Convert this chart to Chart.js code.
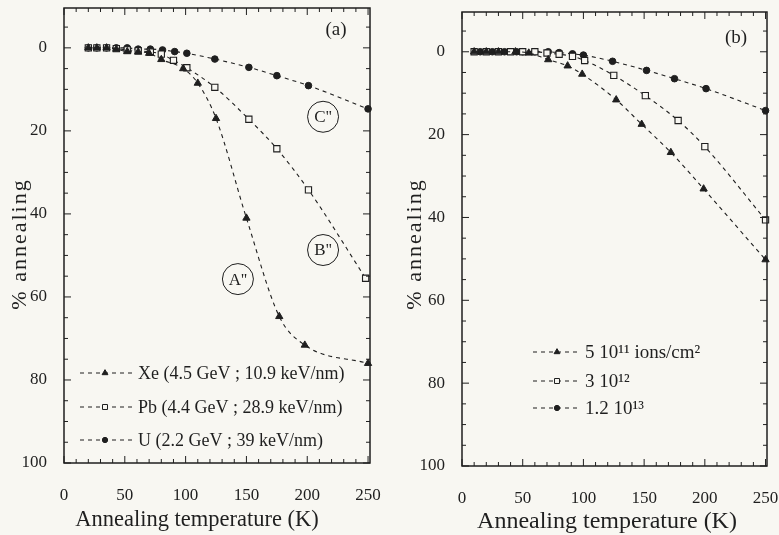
<!DOCTYPE html>
<html>
<head>
<meta charset="utf-8">
<script src="https://cdn.jsdelivr.net/npm/chart.js@4.4.0/dist/chart.umd.min.js"></script>
<style>
  body { margin: 0; background: #f8f7f2; }
  #wrap { position: relative; width: 779px; height: 535px; overflow: hidden; }
  canvas { position: absolute; top: 0; }
  #chartA { left: 0; }
  #chartB { left: 400px; }
</style>
</head>
<body>
<div id="wrap">
  <canvas id="chartA" width="400" height="535"></canvas>
  <canvas id="chartB" width="379" height="535"></canvas>
</div>
<script>
// ---- data ----
const xTickLabels = [0, 50, 100, 150, 200, 250];
const yTickLabels = [0, 20, 40, 60, 80, 100];

// panel (a): three ions
const xeTemp   = [20, 27, 35, 43, 52, 61, 70, 80, 98, 110, 125, 150, 177, 198, 250];
const xeAnneal = [0, 0, 0, 0.3, 0.9, 1, 1.3, 2.8, 5, 8.5, 17, 41, 64.7, 71.6, 76];
const pbTemp   = [20, 27, 35, 43, 52, 61, 71, 80, 90, 101, 124, 152, 175, 201, 248];
const pbAnneal = [0, 0, 0, 0.2, 0.5, 0.7, 1, 1.5, 3, 4.8, 9.5, 17.2, 24.3, 34.2, 55.5];
const uTemp    = [20, 27, 35, 43, 52, 61, 71, 81, 91, 101, 124, 152, 175, 201, 250];
const uAnneal  = [0, 0, 0, 0, 0, 0.3, 0.3, 0.5, 0.9, 1.3, 2.7, 4.7, 6.7, 9.1, 14.7];
const aLabels  = ['Xe (4.5 GeV ; 10.9 keV/nm)', 'Pb (4.4 GeV ; 28.9 keV/nm)', 'U (2.2 GeV ; 39 keV/nm)'];

// panel (b): three fluences
const f1Temp   = [10, 20, 30, 44, 55, 71, 87, 99, 127, 148, 172, 199, 250];
const f1Anneal = [0, 0, 0, 0, 0.3, 1.9, 3.4, 5.4, 11.6, 17.5, 24.3, 33.1, 50.2];
const f2Temp   = [10, 20, 30, 40, 50, 60, 70, 80, 91, 101, 125, 151, 178, 200, 250];
const f2Anneal = [0, 0, 0, 0, 0, 0, 0.3, 0.6, 1.1, 2.1, 5.7, 10.6, 16.6, 22.9, 40.6];
const f3Temp   = [15, 25, 35, 45, 50, 60, 71, 80, 91, 100, 124, 152, 175, 201, 250];
const f3Anneal = [0, 0, 0, 0, 0, 0, 0, 0.2, 0.5, 0.8, 2.3, 4.5, 6.5, 8.9, 14.2];
const bLabels  = ['5 10\u00b9\u00b9 ions/cm\u00b2', '3 10\u00b9\u00b2', '1.2 10\u00b9\u00b3'];

// circled curve labels in panel (a), data units
const curveTags = [
  { text: "A''", x: 143, y: 55.7 },
  { text: "B''", x: 213, y: 48.7 },
  { text: "C''", x: 213, y: 16.6 }
];

const ink = '#1f1f1f';
const paper = '#f8f7f2';
const serif = '"Liberation Serif", "DejaVu Serif", serif';

const markers = {
  tri:  { pointStyle: 'triangle', pointRadius: 4.2, pointBackgroundColor: ink,   pointBorderColor: ink, pointBorderWidth: 1 },
  sq:   { pointStyle: 'rect',     pointRadius: 4.4, pointBackgroundColor: paper, pointBorderColor: ink, pointBorderWidth: 1.1 },
  circ: { pointStyle: 'circle',   pointRadius: 3.3, pointBackgroundColor: ink,   pointBorderColor: ink, pointBorderWidth: 1 }
};

function series(label, temps, vals, mark) {
  return Object.assign({
    label: label,
    data: temps.map((t, i) => ({ x: t, y: vals[i] })),
    borderColor: ink,
    borderWidth: 1.1,
    borderDash: [4, 4],
    cubicInterpolationMode: 'monotone',
    fill: false,
    clip: false
  }, markers[mark]);
}

function line(ctx, x1, y1, x2, y2) {
  ctx.beginPath();
  ctx.moveTo(x1, y1);
  ctx.lineTo(x2, y2);
  ctx.stroke();
}

// frame, inward ticks, axis titles, legend, tags
const framePlugin = {
  id: 'frame',
  beforeDraw(chart) {
    const ctx = chart.ctx;
    ctx.save();
    ctx.fillStyle = paper;
    ctx.fillRect(0, 0, chart.width, chart.height);
    ctx.restore();
  },
  afterDraw(chart, args, opts) {
    const { ctx, chartArea: a, scales: { x, y } } = chart;
    ctx.save();
    ctx.strokeStyle = ink;
    ctx.lineWidth = 1.5;
    ctx.strokeRect(a.left, a.top, a.right - a.left, a.bottom - a.top);

    ctx.lineWidth = 1;
    for (let t = 0; t <= x.max; t += 10) {
      const px = x.getPixelForValue(t);
      const len = t % 50 === 0 ? 7 : 4;
      line(ctx, px, a.bottom, px, a.bottom - len);
      line(ctx, px, a.top, px, a.top + len);
    }
    for (let v = -5; v <= 100; v += 5) {
      const py = y.getPixelForValue(v);
      const len = v % 20 === 0 ? 7 : 4;
      line(ctx, a.left, py, a.left + len, py);
      line(ctx, a.right, py, a.right - len, py);
    }

    ctx.fillStyle = ink;
    ctx.textAlign = 'center';
    ctx.textBaseline = 'middle';

    // x title
    ctx.font = opts.xTitleSize + 'px ' + serif;
    ctx.fillText('Annealing temperature (K)', opts.xTitleX, opts.xTitleY);

    // y title
    ctx.save();
    ctx.translate(opts.yTitleX, 244);
    ctx.rotate(-Math.PI / 2);
    ctx.font = '22px ' + serif;
    ctx.letterSpacing = '2px';
    ctx.fillText('% annealing', 0, 0);
    ctx.restore();

    // panel label
    ctx.font = '19px ' + serif;
    ctx.fillText(opts.panel, a.right + opts.panelDx, a.top + opts.panelDy);

    // legend
    const lg = opts.legend;
    chart.data.datasets.forEach((ds, i) => {
      const ly = a.top + lg.rows[i];
      ctx.lineWidth = 1;
      ctx.setLineDash([4, 4]);
      line(ctx, a.left + lg.lineFrom, ly, a.left + lg.lineTo, ly);
      ctx.setLineDash([]);
      ctx.fillStyle = ds.pointBackgroundColor;
      ctx.strokeStyle = ink;
      Chart.helpers.drawPoint(ctx, {
        pointStyle: ds.pointStyle, radius: ds.pointRadius * 0.8, rotation: 0, borderWidth: 1
      }, a.left + lg.mark, ly);
      ctx.fillStyle = ink;
      ctx.font = lg.size + 'px ' + serif;
      ctx.textAlign = 'left';
      ctx.fillText(opts.labels[i], a.left + lg.text, ly + 1);
    });

    // circled curve tags
    ctx.textAlign = 'center';
    (opts.tags || []).forEach(tag => {
      const cx = x.getPixelForValue(tag.x);
      const cy = y.getPixelForValue(tag.y);
      ctx.beginPath();
      ctx.lineWidth = 1;
      ctx.arc(cx, cy, 15.5, 0, Math.PI * 2);
      ctx.stroke();
      ctx.font = '17px ' + serif;
      ctx.fillText(tag.text, cx, cy + 1);
    });
    ctx.restore();
  }
};

function makeChart(id, datasets, cfg) {
  return new Chart(document.getElementById(id), {
    type: 'line',
    data: { datasets: datasets },
    plugins: [framePlugin],
    options: {
      responsive: false,
      animation: false,
      devicePixelRatio: 1,
      layout: { padding: { top: cfg.top, right: cfg.right, left: 0, bottom: 0 } },
      plugins: {
        legend: { display: false },
        tooltip: { enabled: false },
        frame: cfg.frame
      },
      scales: {
        x: {
          type: 'linear',
          min: 0,
          max: cfg.xMax,
          grid: { display: false },
          border: { display: false },
          afterBuildTicks: s => { s.ticks = xTickLabels.map(v => ({ value: v })); },
          afterFit: s => { s.height = cfg.xHeight; s.paddingLeft = 0; s.paddingRight = 0; },
          ticks: { color: ink, padding: 14, font: { family: serif, size: 17 } }
        },
        y: {
          type: 'linear',
          reverse: true,
          min: -9.6,
          max: 100,
          grid: { display: false },
          border: { display: false },
          afterBuildTicks: s => { s.ticks = yTickLabels.map(v => ({ value: v })); },
          afterFit: s => { s.width = cfg.yWidth; s.paddingTop = 0; s.paddingBottom = 0; },
          ticks: { color: ink, padding: 9, font: { family: serif, size: 17 } }
        }
      }
    }
  });
}

makeChart('chartA', [
  series('Xe', xeTemp, xeAnneal, 'tri'),
  series('Pb', pbTemp, pbAnneal, 'sq'),
  series('U', uTemp, uAnneal, 'circ')
], {
  top: 8, right: 30, xHeight: 72, yWidth: 64, xMax: 251.6,
  frame: {
    xTitleX: 197, xTitleY: 520, xTitleSize: 22.5,
    yTitleX: 20, panel: '(a)', panelDx: -34, panelDy: 22,
    labels: aLabels, tags: curveTags,
    legend: { rows: [365, 399, 432], lineFrom: 16, lineTo: 68, mark: 41, text: 74, size: 18 }
  }
});

makeChart('chartB', [
  series('5e11', f1Temp, f1Anneal, 'tri'),
  series('3e12', f2Temp, f2Anneal, 'sq'),
  series('1.2e13', f3Temp, f3Anneal, 'circ')
], {
  top: 12, right: 12, xHeight: 69, yWidth: 62, xMax: 251.2,
  frame: {
    xTitleX: 207, xTitleY: 522, xTitleSize: 24,
    yTitleX: 15, panel: '(b)', panelDx: -31, panelDy: 26,
    labels: bLabels, tags: [],
    legend: { rows: [340, 369, 396], lineFrom: 71, lineTo: 118, mark: 95, text: 123, size: 19 }
  }
});
</script>
</body>
</html>
